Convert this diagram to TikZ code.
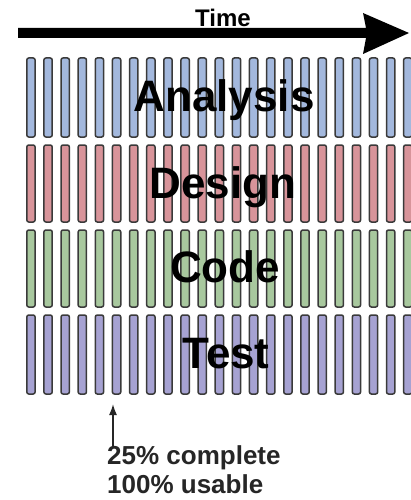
\documentclass[tikz,border=0pt]{standalone}
\usepackage{fontspec}
\setmainfont{Liberation Sans}
\usetikzlibrary{arrows.meta}
\definecolor{barblue}{HTML}{A3B8DD}
\definecolor{barred}{HTML}{D8949A}
\definecolor{bargreen}{HTML}{A8C89E}
\definecolor{barpurple}{HTML}{A6A2D2}
\definecolor{barline}{HTML}{3A3A3A}
\tikzset{
  barbox/.style={draw=barline, line width=1.5pt, rounded corners=2pt},
  rowlabel/.style={font=\fontsize{44}{44}\selectfont\bfseries, text=black, inner sep=0pt, anchor=base},
  smalllabel/.style={font=\fontsize{26}{30}\selectfont\bfseries, text=black!85, inner sep=0pt, anchor=base west},
}
\begin{document}
\begin{tikzpicture}[x=1pt,y=1pt]
\useasboundingbox (0,0) rectangle (411,-500);
\fill[white] (0,0) rectangle (411,-500);
% time arrow
\coordinate (tstart) at (18,-33);
\coordinate (tend) at (409,-33);
\fill[black] (18,-28) -- (366,-28) -- (363,-13) -- (409,-33) -- (363,-54) -- (366,-38) -- (18,-38) -- cycle;
\node[font=\fontsize{24}{24}\selectfont\bfseries, inner sep=0pt, anchor=base] (time) at (223,-27) {Time};
% bars
\foreach \top/\bot/\col in {58/137/barblue, 145/222/barred, 230/307/bargreen, 315/394/barpurple}{
  \foreach \i in {0,...,22}{
    \pgfmathsetmacro{\xl}{26.8+\i*17.13}
    \draw[barbox, fill=\col] (\xl,-\top) rectangle ++(8.3,-\bot+\top);
  }
}
% row labels
\node[rowlabel] (analysis) at (224,-112) {Analysis};
\node[rowlabel] (design) at (223,-198) {Design};
\node[rowlabel] (code) at (225,-282) {Code};
\node[rowlabel] (test) at (226,-368) {Test};
% bottom annotation
\node[smalllabel] (note1) at (107,-464) {25\% complete};
\node[smalllabel] (note2) at (107,-493) {100\% usable};
\coordinate (ptip) at (113,-404);
\draw[line width=1.6pt, -{Latex[length=11pt,width=8pt]}, black!85] (note1.north west -| ptip) ++(0,-3) coordinate (ptail) -- (ptip);
\end{tikzpicture}
\end{document}
